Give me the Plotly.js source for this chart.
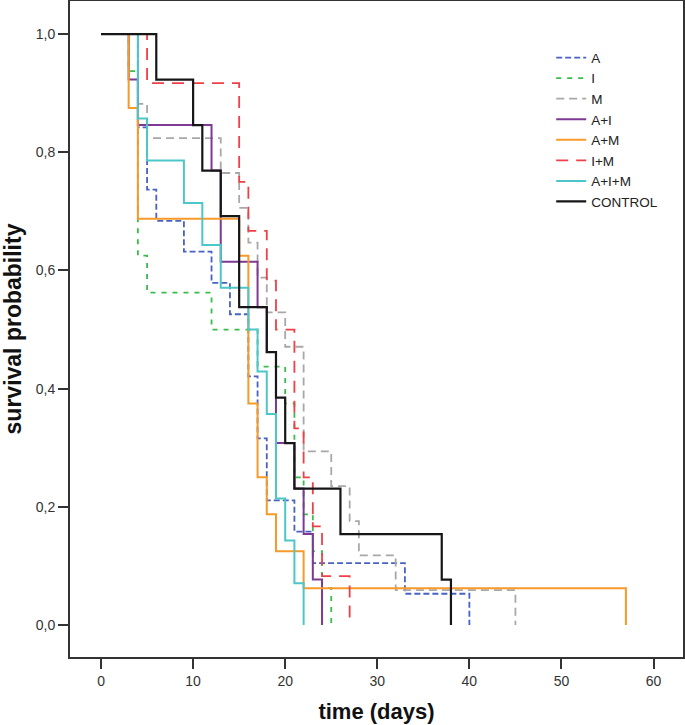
<!DOCTYPE html>
<html>
<head>
<meta charset="utf-8">
<script src="https://cdn.plot.ly/plotly-3.0.1.min.js"></script>
<style>
html,body{margin:0;padding:0;background:#fff;}
#chart{width:685px;height:725px;}
</style>
</head>
<body>
<div id="chart"></div>
<script>
// Kaplan-Meier step data (time in days, survival probability)
const groupNames = ["A", "I", "M", "A+I", "A+M", "I+M", "A+I+M", "CONTROL"];

const timeA = [0, 4, 5, 6, 9, 12, 14, 16, 17, 18, 21, 23, 33, 40];
const survA = [1, 0.842, 0.737, 0.684, 0.632, 0.579, 0.526, 0.421, 0.316, 0.211, 0.158, 0.105, 0.053, 0];

const timeI = [0, 3, 4, 5, 12, 17, 20, 21, 22, 23, 24, 25];
const survI = [1, 0.9375, 0.625, 0.5625, 0.5, 0.4375, 0.375, 0.25, 0.1875, 0.125, 0.0625, 0];

const timeM = [0, 4, 5, 13, 15, 16, 17, 18, 20, 22, 25, 27, 28, 32, 45];
const survM = [1, 0.882, 0.824, 0.765, 0.706, 0.647, 0.588, 0.529, 0.471, 0.294, 0.235, 0.176, 0.118, 0.059, 0];

const timeAI = [0, 3, 4, 12, 13, 17, 18, 19, 21, 22, 23, 24];
const survAI = [1, 0.923, 0.846, 0.769, 0.615, 0.538, 0.462, 0.308, 0.231, 0.154, 0.077, 0];

const timeAM = [0, 3, 4, 15, 16, 17, 18, 19, 22, 57];
const survAM = [1, 0.875, 0.6875, 0.625, 0.375, 0.25, 0.1875, 0.125, 0.0625, 0];

const timeIM = [0, 5, 15, 16, 18, 19, 21, 22, 23, 24, 27];
const survIM = [1, 0.917, 0.75, 0.667, 0.583, 0.5, 0.333, 0.25, 0.167, 0.083, 0];

const timeAIM = [0, 4, 5, 9, 11, 13, 16, 17, 18, 19, 20, 21, 22];
const survAIM = [1, 0.857, 0.786, 0.714, 0.643, 0.571, 0.5, 0.429, 0.357, 0.214, 0.143, 0.071, 0];

const timeCTRL = [0, 6, 10, 11, 13, 15, 18, 19, 20, 21, 26, 37, 38];
const survCTRL = [1, 0.923, 0.846, 0.769, 0.692, 0.538, 0.462, 0.385, 0.308, 0.231, 0.154, 0.077, 0];

const xTicks = [0, 10, 20, 30, 40, 50, 60];
const yTicks = [0, 0.2, 0.4, 0.6, 0.8, 1.0];

const allTimes = [timeA, timeI, timeM, timeAI, timeAM, timeIM, timeAIM, timeCTRL];
const allSurv = [survA, survI, survM, survAI, survAM, survIM, survAIM, survCTRL];

const styles = [
  {color: "#4862c4", dash: "6px,3px", width: 1.8},
  {color: "#3bbb4c", dash: "5px,6px", width: 1.8},
  {color: "#a8a8a8", dash: "8px,5px", width: 1.8},
  {color: "#7e3a93", dash: "solid", width: 2},
  {color: "#f89a2a", dash: "solid", width: 2},
  {color: "#ee4048", dash: "12px,8px", width: 1.8},
  {color: "#4cc6c8", dash: "solid", width: 2},
  {color: "#161616", dash: "solid", width: 2.2}
];

const traces = groupNames.map((name, i) => ({
  type: "scatter",
  mode: "lines",
  name: name,
  x: allTimes[i],
  y: allSurv[i],
  line: {shape: "hv", color: styles[i].color, dash: styles[i].dash, width: styles[i].width},
  hoverinfo: "x+y+name"
}));

const axisFont = {family: "Liberation Sans, Arial, sans-serif", size: 14, color: "#333"};
const xTitleFont = {family: "Liberation Sans, Arial, sans-serif", size: 22, color: "#111", weight: "bold"};
const yTitleFont = {family: "Liberation Sans, Arial, sans-serif", size: 23, color: "#111", weight: "bold"};

const layout = {
  width: 685,
  height: 725,
  margin: {l: 70, r: 2, t: 1, b: 68},
  paper_bgcolor: "#fff",
  plot_bgcolor: "#fff",
  separators: ",.",
  showlegend: true,
  legend: {
    x: 0.785, y: 0.937, xanchor: "left", yanchor: "top",
    font: {family: "Liberation Sans, Arial, sans-serif", size: 13.5, color: "#222"},
    bgcolor: "rgba(0,0,0,0)", tracegroupgap: 0
  },
  xaxis: {
    range: [-3.37, 63.2],
    tickvals: xTicks,
    ticks: "outside", ticklen: 10, tickwidth: 2, tickcolor: "#333",
    showline: true, linecolor: "#333", linewidth: 2, mirror: true,
    showgrid: false, zeroline: false,
    tickfont: axisFont,
    title: {text: "time (days)", font: xTitleFont, standoff: 16}
  },
  yaxis: {
    range: [-0.054, 1.056],
    tickvals: yTicks,
    tickformat: ".1f",
    ticks: "outside", ticklen: 10, tickwidth: 2, tickcolor: "#333",
    showline: true, linecolor: "#333", linewidth: 2, mirror: true,
    showgrid: false, zeroline: false,
    tickfont: axisFont,
    title: {text: "survival probability", font: yTitleFont, standoff: 11}
  }
};

Plotly.newPlot("chart", traces, layout, {displayModeBar: false, staticPlot: true});
</script>
</body>
</html>
